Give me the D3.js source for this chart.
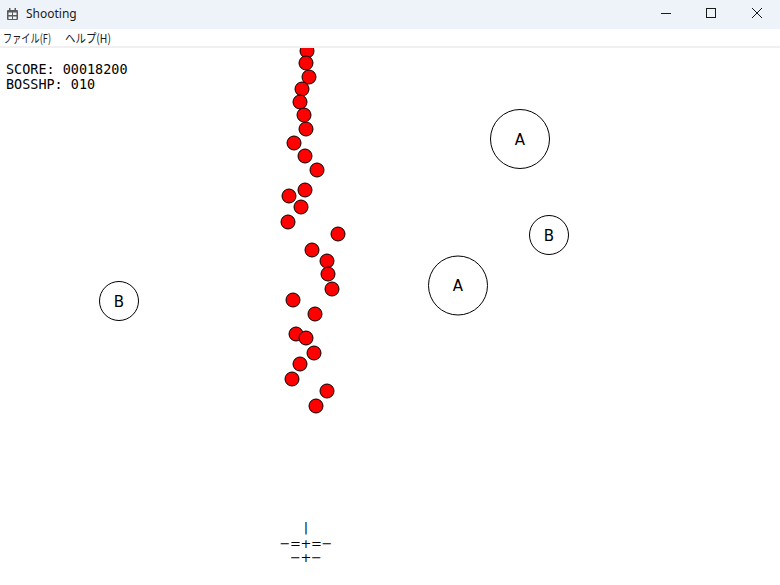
<!DOCTYPE html>
<html>
<head>
<meta charset="utf-8">
<script src="https://cdn.jsdelivr.net/npm/d3@7"></script>
<style>
  body { margin: 0; background: #ffffff; overflow: hidden; }
  svg { display: block; }
</style>
</head>
<body>
<div id="vis-container"></div>
<script>
// window chrome
const winTitle = "Shooting";
const menuItems = ["ファイル(F)", "ヘルプ(H)"];
const menuX = [3, 65];
const menuW = [48, 46];

// game state (client area coordinates)
const scoreLines = ["SCORE: 00018200", "BOSSHP: 010"];

const bulletX = [307, 306, 309, 302, 300, 304, 306, 294, 305, 317, 305, 289, 301, 288,
                 338, 312, 327, 328, 332, 293, 315, 296, 306, 314, 300, 292, 327, 316];
const bulletY = [3, 15, 29, 41, 54, 67, 81, 95, 108, 122, 142, 148, 159, 174,
                 186, 202, 213, 226, 241, 252, 266, 286, 290, 305, 316, 331, 343, 358];

const enemyLabel = ["A", "B", "A", "B"];
const enemyX = [520, 549, 458, 119];
const enemyY = [91, 187, 237.5, 253];
const enemySize = [30, 20, 30, 20];

const shipX = 306;
const shipRows = ["|", "−=+=−", "−+−"];
const shipRowY = [479, 495, 509];

const width = 780;
const height = 585;
const titleH = 29;
const clientTop = 48;

const svg = d3.select("#vis-container")
              .append("svg")
              .attr("width", width)
              .attr("height", height);

// title bar
svg.append("rect")
   .attr("x", 0).attr("y", 0)
   .attr("width", width).attr("height", titleH)
   .attr("fill", "#eef3f9");

// app icon
const icon = svg.append("g").attr("transform", "translate(6,8)");
icon.append("rect").attr("x", 1).attr("y", 2).attr("width", 11).attr("height", 10)
    .attr("rx", 1).attr("fill", "#5a5a5a");
icon.append("rect").attr("x", 3).attr("y", 0).attr("width", 1.5).attr("height", 3).attr("fill", "#5a5a5a");
icon.append("rect").attr("x", 8.5).attr("y", 0).attr("width", 1.5).attr("height", 3).attr("fill", "#5a5a5a");
[[2.5, 4.5], [7, 4.5], [2.5, 8.5], [7, 8.5]].forEach(([cx, cy]) => {
  icon.append("rect").attr("x", cx).attr("y", cy).attr("width", 3.5).attr("height", 2.5).attr("fill", "#eef3f9");
});

svg.append("text")
   .attr("x", 26).attr("y", 18)
   .attr("font-family", "'Noto Sans', 'Open Sans', sans-serif")
   .attr("font-size", "12px")
   .attr("fill", "#1a1a1a")
   .text(winTitle);

// caption buttons
const cap = svg.append("g").attr("stroke", "#1a1a1a").attr("stroke-width", 1).attr("fill", "none");
cap.append("line").attr("x1", 661).attr("x2", 671).attr("y1", 13.5).attr("y2", 13.5);
cap.append("rect").attr("x", 706.5).attr("y", 8.5).attr("width", 9).attr("height", 9);
cap.append("line").attr("x1", 752).attr("y1", 8).attr("x2", 762).attr("y2", 18);
cap.append("line").attr("x1", 762).attr("y1", 8).attr("x2", 752).attr("y2", 18);

// menu bar
svg.append("rect")
   .attr("x", 0).attr("y", titleH)
   .attr("width", width).attr("height", clientTop - titleH)
   .attr("fill", "#ffffff");
svg.append("rect")
   .attr("x", 0).attr("y", 46)
   .attr("width", width).attr("height", 2)
   .attr("fill", "#f0f0f0");

svg.selectAll(".menu")
   .data(menuItems)
   .enter()
   .append("text")
   .attr("class", "menu")
   .attr("x", (d, i) => menuX[i])
   .attr("y", 42.5)
   .attr("font-family", "'Noto Sans CJK JP', 'Noto Sans', sans-serif")
   .attr("font-size", "12px")
   .attr("textLength", (d, i) => menuW[i])
   .attr("lengthAdjust", "spacingAndGlyphs")
   .attr("fill", "#1a1a1a")
   .text(d => d);

// client area
svg.append("clipPath").attr("id", "client")
   .append("rect")
   .attr("x", 0).attr("y", clientTop)
   .attr("width", width).attr("height", height - clientTop);

const game = svg.append("g").attr("clip-path", "url(#client)");

const x = d3.scaleLinear().domain([0, width]).range([0, width]);
const y = d3.scaleLinear().domain([0, height - clientTop]).range([clientTop, height]);

// score text
game.selectAll(".hud")
    .data(scoreLines)
    .enter()
    .append("text")
    .attr("class", "hud")
    .attr("x", x(6))
    .attr("y", (d, i) => y(25.5 + i * 15))
    .attr("font-family", "'DejaVu Sans Mono', monospace")
    .attr("font-size", "13.5px")
    .attr("textLength", d => d.length * 8.1)
    .attr("lengthAdjust", "spacingAndGlyphs")
    .attr("fill", "#000")
    .text(d => d);

// enemies
const enemies = game.selectAll(".enemy")
    .data(enemyLabel)
    .enter()
    .append("g")
    .attr("class", "enemy");

enemies.append("circle")
    .attr("cx", (d, i) => x(enemyX[i]))
    .attr("cy", (d, i) => y(enemyY[i]))
    .attr("r", (d, i) => enemySize[i] - 0.5)
    .attr("fill", "none")
    .attr("stroke", "#000")
    .attr("stroke-width", 1);

enemies.append("text")
    .attr("x", (d, i) => x(enemyX[i]))
    .attr("y", (d, i) => y(enemyY[i]) + 5.5)
    .attr("text-anchor", "middle")
    .attr("font-family", "'DejaVu Sans', sans-serif")
    .attr("font-size", "15px")
    .attr("fill", "#000")
    .text(d => d);

// bullets
game.selectAll(".bullet")
    .data(bulletX)
    .enter()
    .append("circle")
    .attr("class", "bullet")
    .attr("cx", (d) => x(d))
    .attr("cy", (d, i) => y(bulletY[i]))
    .attr("r", 7)
    .attr("fill", "#ff0000")
    .attr("stroke", "#000")
    .attr("stroke-width", 1);

// player ship
shipRows.forEach((row, r) => {
  const chars = row.split("");
  game.selectAll(".ship" + r)
      .data(chars)
      .enter()
      .append("text")
      .attr("class", "ship" + r)
      .attr("x", (d, i) => x(shipX + (i - (chars.length - 1) / 2) * 10.5))
      .attr("y", y(shipRowY[r]))
      .attr("dominant-baseline", "central")
      .attr("text-anchor", "middle")
      .attr("font-family", "'DejaVu Sans', sans-serif")
      .attr("font-size", "13px")
      .attr("fill", "#000")
      .text(d => d);
});
</script>
</body>
</html>
